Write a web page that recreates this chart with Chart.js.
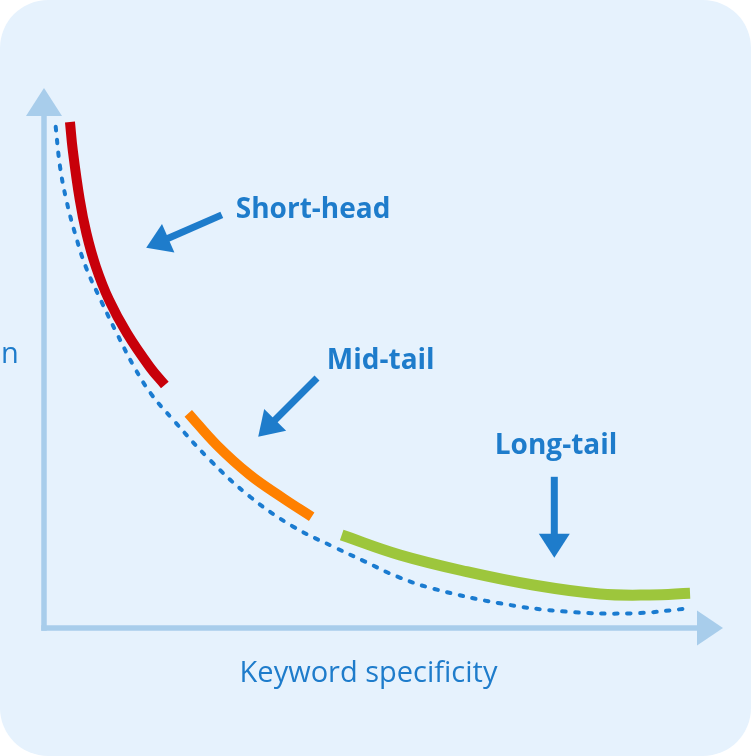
<!DOCTYPE html>
<html><head><meta charset="utf-8">
<script src="https://cdn.jsdelivr.net/npm/chart.js@4"></script>
<style>html,body{margin:0;padding:0;background:#fff;}canvas{display:block;}</style>
</head><body>
<canvas id="c" width="751" height="756"></canvas>
<script>
// Curve segments (x: keyword specificity 0-100, y: search volume 0-100)
const shortHeadX = [3.71, 4.11, 5.11, 6.06, 7.41, 9.30, 11.84, 15.14, 17.26];
const shortHeadY = [93.7, 88.5, 79.3, 73.1, 66.9, 60.7, 54.6, 48.3, 45.0];
const midTailX = [20.61, 24.67, 29.43, 34.19, 38.24];
const midTailY = [39.76, 33.89, 28.33, 24.02, 20.61];
const longTailX = [42.53, 50.86, 60.39, 69.9, 79.43, 86.57, 92.29];
const longTailY = [17.22, 13.52, 10.43, 7.96, 6.30, 6.11, 6.43];
const demandX = [1.67, 2.29, 3.19, 4.43, 5.96, 8.10, 10.4, 12.86, 15.24, 18.47, 23.71, 29.43, 35.61, 41.81, 45.86, 50.5, 55.57, 65.14, 74.67, 84.14, 92.29];
const demandY = [92.83, 85.43, 79.26, 73.09, 66.91, 60.74, 54.57, 48.39, 43.46, 38.52, 31.11, 24.31, 18.76, 14.76, 12.3, 9.5, 7.3, 4.57, 3.02, 2.72, 3.65];

// Labels and their arrows
const labelTexts = ["Short-head", "Mid-tail", "Long-tail"];
const labelX = [27.4, 40.4, 64.4];
const labelY = [75.9, 48.0, 32.2];
const arrowFromX = [25.4, 39.0, 72.9];
const arrowFromY = [76.5, 46.3, 28.0];
const arrowToX = [14.6, 30.6, 72.9];
const arrowToY = [70.4, 35.4, 13.0];

const xAxisTitle = "Keyword specificity";
const yAxisTitle = "n";
const xAxisEnd = 97;
const yAxisEnd = 100;

const pts = (xs, ys) => xs.map((x, i) => ({x, y: ys[i]}));

const BLUE = '#1e7ccb';

const bgPlugin = {
  id: 'bg',
  beforeDraw(chart) {
    const ctx = chart.ctx, w = chart.width, h = chart.height, r = 48;
    ctx.save();
    ctx.fillStyle = '#ffffff';
    ctx.fillRect(0, 0, w, h);
    ctx.fillStyle = '#e6f2fd';
    ctx.beginPath();
    ctx.moveTo(r, 0);
    ctx.lineTo(w - r, 0);
    ctx.arcTo(w, 0, w, r, r);
    ctx.lineTo(w, h - r);
    ctx.arcTo(w, h, w - r, h, r);
    ctx.lineTo(r, h);
    ctx.arcTo(0, h, 0, h - r, r);
    ctx.lineTo(0, r);
    ctx.arcTo(0, 0, r, 0, r);
    ctx.closePath();
    ctx.fill();
    ctx.restore();
  }
};

function arrowHead(ctx, fx, fy, tx, ty, len, half) {
  const a = Math.atan2(ty - fy, tx - fx);
  const bx = tx - Math.cos(a) * len, by = ty - Math.sin(a) * len;
  ctx.beginPath();
  ctx.moveTo(tx, ty);
  ctx.lineTo(bx + Math.sin(a) * half, by - Math.cos(a) * half);
  ctx.lineTo(bx - Math.sin(a) * half, by + Math.cos(a) * half);
  ctx.closePath();
  ctx.fill();
  return {bx, by};
}

const axesPlugin = {
  id: 'axes',
  beforeDatasetsDraw(chart) {
    const ctx = chart.ctx, xs = chart.scales.x, ys = chart.scales.y;
    const ox = xs.getPixelForValue(0), oy = ys.getPixelForValue(0);
    const xe = xs.getPixelForValue(xAxisEnd), ye = ys.getPixelForValue(yAxisEnd);
    ctx.save();
    ctx.fillStyle = '#a8cdeb';
    ctx.strokeStyle = '#a8cdeb';
    ctx.lineWidth = 5.5;
    ctx.lineCap = 'butt';
    // y axis
    ctx.beginPath();
    ctx.moveTo(ox, oy + 2.75);
    ctx.lineTo(ox, ye + 26);
    ctx.stroke();
    arrowHead(ctx, ox, oy, ox, ye, 28, 18);
    // x axis
    ctx.beginPath();
    ctx.moveTo(ox - 2.75, oy);
    ctx.lineTo(xe - 24, oy);
    ctx.stroke();
    arrowHead(ctx, ox, oy, xe, oy, 26, 17.5);
    // titles
    ctx.fillStyle = BLUE;
    ctx.font = '400 29px "Open Sans"';
    ctx.textAlign = 'center';
    ctx.textBaseline = 'alphabetic';
    ctx.fillText(xAxisTitle, 368.5, 682);
    ctx.textAlign = 'left';
    ctx.font = '400 29px "Open Sans"';
    ctx.fillText(yAxisTitle, 1, 363);
    ctx.restore();
  },
  afterDatasetsDraw(chart) {
    const ctx = chart.ctx, xs = chart.scales.x, ys = chart.scales.y;
    ctx.save();
    ctx.fillStyle = BLUE;
    ctx.strokeStyle = BLUE;
    ctx.font = '700 28px "Open Sans"';
    ctx.textAlign = 'left';
    ctx.textBaseline = 'alphabetic';
    labelTexts.forEach((t, i) => {
      ctx.fillText(t, xs.getPixelForValue(labelX[i]), ys.getPixelForValue(labelY[i]));
      const fx = xs.getPixelForValue(arrowFromX[i]), fy = ys.getPixelForValue(arrowFromY[i]);
      const tx = xs.getPixelForValue(arrowToX[i]), ty = ys.getPixelForValue(arrowToY[i]);
      const {bx, by} = arrowHead(ctx, fx, fy, tx, ty, 24, 15.5);
      ctx.lineWidth = 7;
      ctx.lineCap = 'butt';
      ctx.beginPath();
      ctx.moveTo(fx, fy);
      ctx.lineTo(bx + (tx - bx) * 0.1, by + (ty - by) * 0.1);
      ctx.stroke();
    });
    ctx.restore();
  }
};

const common = {showLine: true, tension: 0.4, pointRadius: 0, clip: false};

new Chart(document.getElementById('c'), {
  type: 'scatter',
  data: {
    datasets: [
      Object.assign({data: pts(demandX, demandY), borderColor: '#1a7bd0', borderWidth: 4,
       borderDash: [3.5, 9.5], borderCapStyle: 'round'}, common),
      Object.assign({data: pts(shortHeadX, shortHeadY), borderColor: '#c8000a', borderWidth: 10,
       borderCapStyle: 'butt'}, common),
      Object.assign({data: pts(midTailX, midTailY), borderColor: '#ff8000', borderWidth: 10,
       borderCapStyle: 'butt'}, common),
      Object.assign({data: pts(longTailX, longTailY), borderColor: '#9dc63c', borderWidth: 11,
       borderCapStyle: 'butt'}, common)
    ]
  },
  options: {
    responsive: false,
    animation: false,
    events: [],
    layout: {padding: {left: 44, right: 7, top: 88, bottom: 128}},
    plugins: {legend: {display: false}, tooltip: {enabled: false}, title: {display: false}},
    scales: {
      x: {type: 'linear', min: 0, max: 100, display: false},
      y: {type: 'linear', min: 0, max: 100, display: false}
    }
  },
  plugins: [bgPlugin, axesPlugin]
});
</script>
</body></html>
